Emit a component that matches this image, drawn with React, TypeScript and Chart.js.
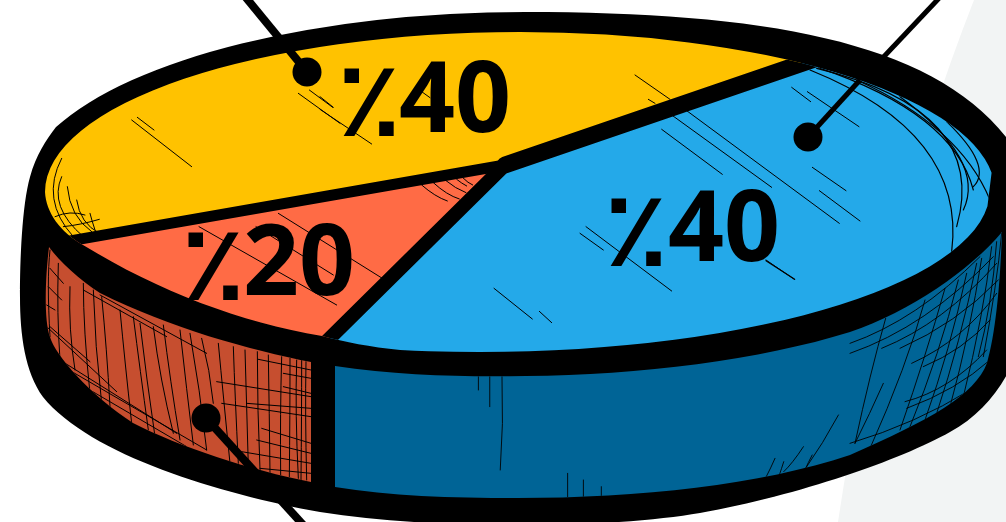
import React, { useEffect, useRef } from "react";
import { Chart, registerables } from "chart.js";

Chart.register(...registerables);

// Values as printed on the slices, clockwise from the top.
const sliceNames = ["Blue", "Orange", "Yellow"];
const sliceValues = [40, 20, 40];
const sliceLabels = ["٪40", "٪20", "٪40"];
const sliceColors = ["#24A9E9", "#FF6B45", "#FFC200"];

type P = [number, number];
const PI = Math.PI;

function facePath(ctx: CanvasRenderingContext2D) {
  ctx.beginPath();
  ctx.ellipse(520, 192, 475, 160, 0, PI, 2 * PI - 0.12);
  ctx.ellipse(480, 190, 510, 162, 0, 0.1, (99 * PI) / 180);
  ctx.bezierCurveTo(370, 347, 345, 342, 322, 336);
  ctx.bezierCurveTo(240, 322, 160, 292, 83, 245);
  ctx.bezierCurveTo(60, 232, 46, 212, 45, 192);
  ctx.closePath();
}
function bodyPath(ctx: CanvasRenderingContext2D) {
  ctx.beginPath();
  ctx.ellipse(525, 195, 505, 183, 0, PI + 0.38, 1.5 * PI);
  ctx.bezierCurveTo(760, 12, 930, 40, 1006, 137);
  ctx.bezierCurveTo(1025, 160, 1035, 230, 1030, 300);
  ctx.bezierCurveTo(1025, 350, 1000, 405, 950, 432);
  ctx.bezierCurveTo(900, 460, 800, 495, 700, 513);
  ctx.bezierCurveTo(620, 527, 450, 532, 320, 512);
  ctx.bezierCurveTo(220, 494, 90, 455, 43, 397);
  ctx.bezierCurveTo(25, 372, 20, 335, 20, 297);
  ctx.bezierCurveTo(20, 260, 22, 205, 30, 177);
  ctx.bezierCurveTo(36, 155, 46, 140, 56, 127);
  ctx.closePath();
}
function sideOrangePath(ctx: CanvasRenderingContext2D) {
  ctx.beginPath();
  ctx.moveTo(49, 247);
  ctx.bezierCurveTo(45, 280, 44, 320, 50, 337);
  ctx.bezierCurveTo(55, 355, 90, 395, 133, 423);
  ctx.bezierCurveTo(180, 447, 250, 470, 311, 482);
  ctx.lineTo(311, 362);
  ctx.bezierCurveTo(250, 350, 170, 328, 100, 293);
  ctx.bezierCurveTo(80, 280, 60, 262, 49, 247);
  ctx.closePath();
}
function sideBluePath(ctx: CanvasRenderingContext2D) {
  ctx.beginPath();
  ctx.moveTo(335, 366);
  ctx.bezierCurveTo(400, 376, 470, 377, 526, 376);
  ctx.bezierCurveTo(640, 375, 760, 360, 850, 332);
  ctx.bezierCurveTo(910, 312, 970, 270, 1002, 232);
  ctx.bezierCurveTo(1000, 290, 995, 335, 987, 363);
  ctx.bezierCurveTo(975, 395, 930, 420, 850, 455);
  ctx.bezierCurveTo(760, 485, 640, 498, 517, 498);
  ctx.bezierCurveTo(450, 498, 390, 496, 335, 487);
  ctx.closePath();
}

// Sketch strokes, written as [x1,y1,x2,y2] or [x1,y1,cx,cy,x2,y2].
function strokes(ctx: CanvasRenderingContext2D, ox: number, oy: number, sx: number, sy: number, list: number[][], w = 1) {
  ctx.lineWidth = w;
  ctx.strokeStyle = "#000";
  ctx.lineCap = "round";
  for (const s of list) {
    ctx.beginPath();
    ctx.moveTo(ox + s[0] * sx, oy + s[1] * sy);
    if (s.length === 4) ctx.lineTo(ox + s[2] * sx, oy + s[3] * sy);
    else ctx.quadraticCurveTo(ox + s[2] * sx, oy + s[3] * sy, ox + s[4] * sx, oy + s[5] * sy);
    ctx.stroke();
  }
}

const apex: P = [505, 165];
const rays: P[] = [[295, -101], [-174, 172], [-430, 75]];

function pieMatrix(arcs: any[]) {
  const dir = (a: number): P => [Math.cos(a), Math.sin(a)];
  const u = arcs.map((a) => dir(a.startAngle));
  const solve = (t: P, a: P, b: P): P => {
    const det = a[0] * b[1] - a[1] * b[0];
    return [(t[0] * b[1] - t[1] * b[0]) / det, (a[0] * t[1] - a[1] * t[0]) / det];
  };
  const [p, q] = solve(u[2], u[0], u[1]);
  const [P0, Q0] = solve(rays[2], rays[0], rays[1]);
  const s0 = P0 / p, s1 = Q0 / q;
  const c0: P = [s0 * rays[0][0], s0 * rays[0][1]];
  const c1: P = [s1 * rays[1][0], s1 * rays[1][1]];
  const det = u[0][0] * u[1][1] - u[0][1] * u[1][0];
  const inv = [u[1][1] / det, -u[1][0] / det, -u[0][1] / det, u[0][0] / det];
  return [
    c0[0] * inv[0] + c1[0] * inv[2],
    c0[1] * inv[0] + c1[1] * inv[2],
    c0[0] * inv[1] + c1[0] * inv[3],
    c0[1] * inv[1] + c1[1] * inv[3],
  ];
}

const sketchPlugin = {
  id: "sketchPie",
  beforeDatasetsDraw(chart: any) {
    const ctx: CanvasRenderingContext2D = chart.ctx;
    const arcs = chart.getDatasetMeta(0).data;

    ctx.save();
    ctx.fillStyle = "#F2F4F4";
    ctx.beginPath();
    ctx.moveTo(974, 0);
    ctx.quadraticCurveTo(880, 240, 838, 522);
    ctx.lineTo(1006, 522);
    ctx.lineTo(1006, 0);
    ctx.closePath();
    ctx.fill();

    ctx.strokeStyle = "#000";
    ctx.lineCap = "butt";
    ctx.lineWidth = 8;
    ctx.beginPath(); ctx.moveTo(243, -6); ctx.lineTo(307, 72); ctx.stroke();
    ctx.lineWidth = 5;
    ctx.beginPath(); ctx.moveTo(943, -6); ctx.lineTo(808, 137); ctx.stroke();

    ctx.fillStyle = "#000";
    bodyPath(ctx); ctx.fill();

    ctx.save();
    ctx.fillStyle = "#C64E2F";
    sideOrangePath(ctx);
    ctx.fill();
    ctx.clip();
    strokes(ctx, 0, 130, 1 / 3, 1 / 3, [
      [150,360,140,450,150,620],[175,400,170,550,180,690],[210,470,205,600,225,720],[250,460,250,600,270,790],[280,480,285,650,305,820],[305,500,320,650,330,830],
      [360,540,375,700,395,880],[400,560,420,720,445,900],[420,580,440,750,465,920],[460,590,480,750,520,910],[490,585,510,750,540,930],[540,600,560,780,580,945],[570,610,600,780,620,960],[605,625,630,720,640,820],[655,640,670,800,690,1000],[700,650,705,800,715,1000],[735,660,740,830,745,1010],[772,665,772,840,780,1020],[805,675,808,850,810,1030],[845,680,840,850,842,1035],[870,685,870,850,868,1040],[890,690,885,850,895,1045],[905,690,905,850,903,1050],[918,695,915,850,920,1050],
      [650,755,933,800],[665,820,933,860],[740,820,933,835],[785,895,933,940],[770,930,933,970],[725,965,933,1000],[780,1015,933,1030],[775,688,933,720],[850,730,933,745],[850,770,933,790],
      [145,470,185,510],[140,525,165,540],[140,590,350,785],[150,590,270,695],[300,495,620,670],[250,480,500,620],[180,690,530,910],[190,710,620,960],[210,745,560,950],[150,415,190,460],
    ]);
    ctx.restore();

    ctx.save();
    ctx.fillStyle = "#006496";
    sideBluePath(ctx);
    ctx.fill();
    ctx.clip();
    strokes(ctx, 320, 340, 0.4375, 1 / 3, [
      [362,110,362,150],[388,110,388,200],[416,110,420,250,412,390],[566,400,566,470],[602,420,602,470],[643,440,643,470],
      [1185,225,1150,310,1110,385],[1105,320,1080,370,1060,395],[1040,355,1030,385,1020,410],[1060,365,1055,385,1050,405],[1125,345,1115,370,1110,385],
    ], 0.9);
    strokes(ctx, 850, 200, 1 / 3, 1 / 3, [
      [107,355,60,520,15,730],[100,550,60,640,15,730],[225,300,170,500,60,745],[285,265,230,460,150,690],[325,240,270,460,180,680],[350,220,300,450,225,660],[380,190,330,430,260,640],[395,175,360,400,300,620],[425,140,400,350,340,590],[440,125,425,320,385,470],[455,100,440,260,400,470],
      [0,430,200,360,390,170],[0,460,230,380,430,170],[95,445,280,370,440,190],[150,445,320,370,445,240],[185,490,340,420,440,280],[220,500,340,450,420,360],[165,605,300,570,410,450],[170,625,320,570,420,480],[0,730,200,670,360,570],
    ], 0.9);
    ctx.restore();
    ctx.restore();

    // the slices are drawn by the library, projected on to the disc's top face
    const m = pieMatrix(arcs);
    const R = arcs[0].outerRadius;
    let minLen = Infinity;
    for (let a = 0; a < 6.3; a += 0.1) {
      const c = Math.cos(a), s = Math.sin(a);
      minLen = Math.min(minLen, Math.hypot(m[0] * c + m[2] * s, m[1] * c + m[3] * s));
    }
    const k = 1100 / (minLen * R);
    ctx.save();
    facePath(ctx);
    ctx.clip();
    ctx.transform(k * m[0], k * m[1], k * m[2], k * m[3], apex[0], apex[1]);
    ctx.translate(-arcs[0].x, -arcs[0].y);
  },
  afterDatasetsDraw(chart: any) {
    const ctx: CanvasRenderingContext2D = chart.ctx;
    const arcs = chart.getDatasetMeta(0).data;
    ctx.restore();

    ctx.save();
    facePath(ctx);
    ctx.clip();
    strokes(ctx, 20, 0, 1 / 3, 1 / 3, [
      [335,360,515,500],[352,352,402,390],[835,280,960,370],[868,270,938,322],
      [125,475,60,600,160,710],[125,530,85,620,190,710],[142,560,150,650,215,695],[170,600,180,670,238,700],[105,650,150,630,195,645],[130,680,180,675,238,658],[210,640,215,660,225,690],
    ]);
    strokes(ctx, 320, 50, 1 / 3, 1 / 3, [[0,140,40,172],[0,178,155,282],[305,125,330,143]]);
    strokes(ctx, 340, 120, 1 / 3, 1 / 3, [
      [245,195,285,230,322,243],[280,188,320,225,358,237],[318,182,345,205,378,218],[350,178,365,190,380,198],[367,172,385,190,398,195],
    ]);
    strokes(ctx, 0, 130, 1 / 3, 1 / 3, [[597,290,1010,525],[768,290,1000,435],[835,250,1155,450]]);
    strokes(ctx, 560, 60, 1 / 3, 1 / 3, [
      [225,45,330,118],[265,118,285,130],[335,165,635,382],[380,152,838,490],[305,208,487,343],[695,82,752,125],[742,95,897,200],[757,322,858,392],[778,392,900,483],[78,500,335,693],[60,520,130,570],[618,600,703,658],
    ]);
    strokes(ctx, 480, 210, 1 / 3, 1 / 3, [[42,235,157,327],[178,304,215,338]]);
    strokes(ctx, 760, 0, 1 / 3, 1 / 3, [
      [18,782,104,838],
      [150,210,620,400,575,755],[170,205,690,330,590,680],[290,240,600,380,690,600],[175,203,580,340,640,570],[420,290,680,480,610,630],[560,365,700,500,640,560],
    ], 1.2);
    ctx.restore();

    // dividers between slices, along the projected slice edges
    const m = pieMatrix(arcs);
    const widths = [17, 14, 11];
    ctx.save();
    facePath(ctx);
    ctx.clip();
    ctx.strokeStyle = "#000";
    ctx.lineCap = "round";
    arcs.forEach((arc: any, i: number) => {
      const c = Math.cos(arc.startAngle), s = Math.sin(arc.startAngle);
      const vx = m[0] * c + m[2] * s, vy = m[1] * c + m[3] * s;
      const l = 1200 / Math.hypot(vx, vy);
      ctx.lineWidth = widths[i];
      ctx.beginPath();
      ctx.moveTo(apex[0], apex[1]);
      ctx.lineTo(apex[0] + vx * l, apex[1] + vy * l);
      ctx.stroke();
    });
    ctx.restore();

    ctx.save();
    ctx.fillStyle = "#000";
    ctx.strokeStyle = "#000";
    ctx.lineWidth = 8;
    ctx.beginPath(); ctx.moveTo(205, 417); ctx.lineTo(306, 528); ctx.stroke();
    ctx.lineWidth = 5;
    ctx.beginPath(); ctx.moveTo(860, 80); ctx.lineTo(808, 137); ctx.stroke();
    ctx.lineWidth = 8;
    ctx.beginPath(); ctx.moveTo(285, 45); ctx.lineTo(307, 72); ctx.stroke();
    for (const [x, y] of [[307, 72], [808, 137], [206, 418]]) {
      ctx.beginPath(); ctx.arc(x, y, 14.5, 0, PI * 2); ctx.fill();
    }

    // slice labels: percent sign, then the figures
    const signSpots: P[] = [[636, 266], [213, 300], [369, 136]];
    const digitSpots: P[] = [[668, 261], [243, 295], [399, 132]];
    ctx.textBaseline = "alphabetic";
    sliceLabels.forEach((t, i) => {
      ctx.font = 'bold 106px "Open Sans", "DejaVu Sans", sans-serif';
      ctx.textAlign = "center";
      ctx.fillText(t.slice(0, 1), signSpots[i][0], signSpots[i][1]);
      ctx.font = 'bold 98px "Open Sans", "DejaVu Sans", sans-serif';
      ctx.textAlign = "left";
      ctx.fillText(t.slice(1), digitSpots[i][0], digitSpots[i][1]);
    });
    ctx.restore();
  },
};

export default function App() {
  const ref = useRef<HTMLCanvasElement>(null);
  useEffect(() => {
    document.body.style.margin = "0";
    const chart = new Chart(ref.current!, {
      type: "pie",
      data: {
        labels: sliceNames,
        datasets: [{ data: sliceValues, backgroundColor: sliceColors, borderWidth: 0, clip: false }],
      },
      options: {
        responsive: false,
        animation: false,
        layout: { padding: 0 },
        plugins: { legend: { display: false }, tooltip: { enabled: false } },
      },
      plugins: [sketchPlugin],
    } as any);
    return () => chart.destroy();
  }, []);
  return (
    <div style={{ width: 1006, height: 522, overflow: "hidden", background: "#fff" }}>
      <canvas ref={ref} width={1006} height={522} style={{ display: "block" }} />
    </div>
  );
}
